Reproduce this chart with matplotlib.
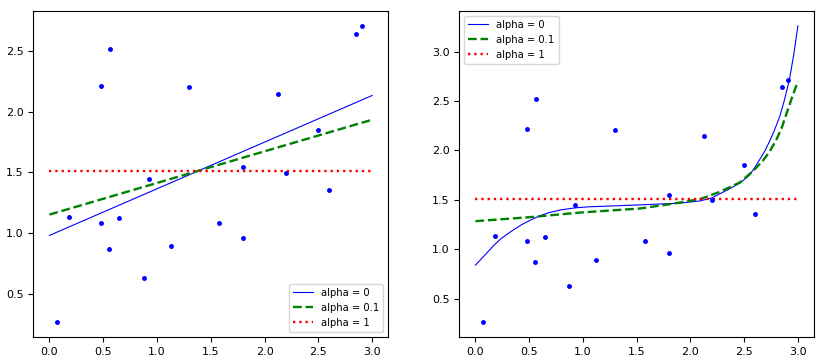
import matplotlib
matplotlib.use("Agg")
import matplotlib.pyplot as plt

# training points
X = [0.068, 0.179, 0.476, 0.476, 0.560, 0.551, 0.643, 0.875, 0.922, 1.126,
     1.302, 1.581, 1.803, 1.803, 2.128, 2.202, 2.496, 2.601, 2.852, 2.908]
y = [0.264, 1.134, 2.215, 1.083, 2.518, 0.871, 1.123, 0.628, 1.447, 0.891,
     2.205, 1.083, 1.548, 0.962, 2.144, 1.497, 1.851, 1.356, 2.639, 2.710]

labels = ["alpha = 0", "alpha = 0.1", "alpha = 1"]

# left panel: plain linear models
lin_x = [0.0, 3.0]
lin_a0 = [0.98, 2.135]
lin_a01 = [1.152, 1.935]
lin_a1 = [1.51, 1.51]

# right panel: polynomial models
poly_x_a0 = [0.0, 0.06, 0.12, 0.18, 0.24, 0.33, 0.43, 0.52, 0.6, 0.68, 0.8, 0.93,
             1.05, 1.3, 1.53, 1.9, 2.09, 2.2, 2.27, 2.36, 2.46, 2.55, 2.6, 2.64,
             2.69, 2.74, 2.78, 2.83, 2.87, 2.92, 2.96, 3.0]
poly_a0 = [0.84, 0.91, 0.98, 1.05, 1.11, 1.18, 1.25, 1.30, 1.34, 1.37, 1.40, 1.42,
           1.43, 1.44, 1.45, 1.467, 1.49, 1.52, 1.56, 1.61, 1.67, 1.75, 1.83, 1.90,
           1.99, 2.10, 2.20, 2.34, 2.49, 2.71, 2.96, 3.26]
poly_x_a01 = [0.0, 0.5, 0.97, 1.53, 1.81, 2.09, 2.27, 2.46, 2.58, 2.67, 2.74,
              2.80, 2.85, 2.89, 2.95, 3.0]
poly_a01 = [1.285, 1.325, 1.372, 1.413, 1.457, 1.508, 1.58, 1.676, 1.79, 1.89, 1.994,
            2.11, 2.23, 2.36, 2.55, 2.70]
poly_x_a1 = [0.0, 3.0]
poly_a1 = [1.51, 1.51]

styles = [("b-", 0.8), ("g--", 1.7), ("r:", 1.7)]

fig = plt.figure(figsize=(8.24, 3.64), dpi=100)
ax1 = fig.add_axes([0.0404, 0.0742, 0.4308, 0.8956])
ax2 = fig.add_axes([0.5574, 0.0742, 0.4305, 0.8956])

left_series = [(lin_x, lin_a0), (lin_x, lin_a01), (lin_x, lin_a1)]
right_series = [(poly_x_a0, poly_a0), (poly_x_a01, poly_a01), (poly_x_a1, poly_a1)]

for ax, series, loc in [(ax1, left_series, "lower right"), (ax2, right_series, "upper left")]:
    for (xs, ys), (st, lw), lab in zip(series, styles, labels):
        ax.plot(xs, ys, st, linewidth=lw, label=lab)
    ax.plot(X, y, "b.", markersize=5)
    ax.legend(loc=loc, fontsize=7.2)
    ax.tick_params(labelsize=8)
    ax.set_xticks([0.0, 0.5, 1.0, 1.5, 2.0, 2.5, 3.0])

fig.savefig("out.png", dpi=100)
